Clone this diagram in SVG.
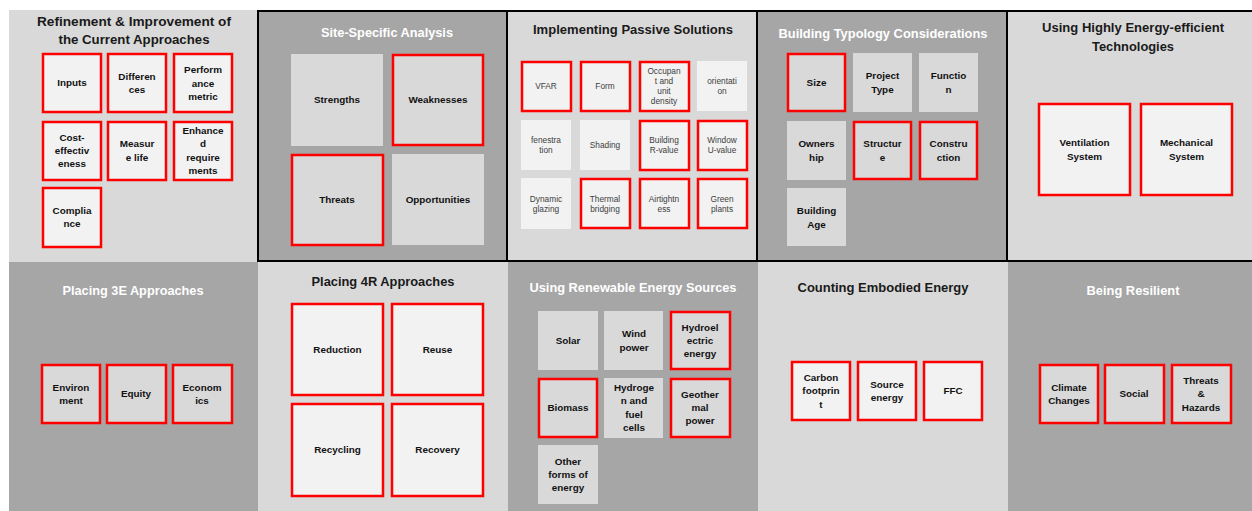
<svg xmlns="http://www.w3.org/2000/svg" width="1252" height="511" viewBox="0 0 1252 511">
<style>
.bgL{fill:#d9d9d9}
.bgD{fill:#a6a6a6}
.brd{fill:none;stroke:#000;stroke-width:2}
.t{font-family:"Liberation Sans",Arial,sans-serif;font-weight:bold;font-size:13.5px;text-anchor:middle}
.tw{fill:#ffffff}
.tb{fill:#1a1a1a}
.bx1{fill:#f2f2f2}
.bx2{fill:#d9d9d9}
.red{stroke:#ff0000;stroke-width:2.5}
.l{font-family:"Liberation Sans",Arial,sans-serif;font-weight:bold;font-size:9.9px;fill:#111111;text-anchor:middle}
.s{font-family:"Liberation Sans",Arial,sans-serif;font-size:8.3px;fill:#404040;text-anchor:middle}
</style>
<rect width="1252" height="511" fill="#ffffff"/>

<g id="panel-refinement">
<rect class="bgL" x="9" y="10" width="249" height="252"/>
<text class="t tb" x="134" y="25.5" textLength="194" lengthAdjust="spacingAndGlyphs">Refinement &amp; Improvement of</text>
<text class="t tb" x="134" y="43.5" textLength="151" lengthAdjust="spacingAndGlyphs">the Current Approaches</text>
<g id="inputs"><rect class="bx1 red" x="43" y="54" width="58" height="58"/><text class="l" x="72" y="86.3">Inputs</text></g>
<g id="differences"><rect class="bx1 red" x="108" y="54" width="58" height="58"/><text class="l"><tspan x="137" y="79.6">Differen</tspan><tspan x="137" y="92.9">ces</tspan></text></g>
<g id="performance"><rect class="bx1 red" x="174" y="54" width="58" height="58"/><text class="l"><tspan x="203" y="73.3">Perform</tspan><tspan x="203" y="86.6">ance</tspan><tspan x="203" y="99.9">metric</tspan></text></g>
<g id="cost"><rect class="bx1 red" x="43" y="122" width="58" height="58"/><text class="l"><tspan x="72" y="140.5">Cost-</tspan><tspan x="72" y="153.8">effectiv</tspan><tspan x="72" y="167.1">eness</tspan></text></g>
<g id="measure"><rect class="bx1 red" x="108" y="122" width="58" height="58"/><text class="l"><tspan x="137" y="147.1">Measur</tspan><tspan x="137" y="160.5">e life</tspan></text></g>
<g id="enhanced"><rect class="bx1 red" x="174" y="122" width="58" height="58"/><text class="l"><tspan x="203" y="133.8">Enhance</tspan><tspan x="203" y="147.1">d</tspan><tspan x="203" y="160.5">require</tspan><tspan x="203" y="173.8">ments</tspan></text></g>
<g id="compliance"><rect class="bx1 red" x="43" y="188" width="58" height="59"/><text class="l"><tspan x="72" y="213.6">Complia</tspan><tspan x="72" y="227">nce</tspan></text></g>
</g>

<g id="panel-site">
<rect class="bgD" x="258" y="10" width="249" height="252"/>
<text class="t tw" x="387" y="36.5" textLength="132" lengthAdjust="spacingAndGlyphs">Site-Specific Analysis</text>
<g id="strengths"><rect class="bx2" x="291" y="54" width="92" height="92"/><text class="l" x="337" y="103.3">Strengths</text></g>
<g id="weaknesses"><rect class="bx2 red" x="393" y="55" width="90" height="90"/><text class="l" x="438" y="103.3">Weaknesses</text></g>
<g id="threats"><rect class="bx2 red" x="292" y="155" width="91" height="90"/><text class="l" x="337" y="203.3">Threats</text></g>
<g id="opportunities"><rect class="bx2" x="392" y="154" width="92" height="91"/><text class="l" x="438" y="203.3">Opportunities</text></g>
</g>

<g id="panel-passive">
<rect class="bgL" x="507" y="10" width="250" height="252"/>
<text class="t tb" x="633" y="33.5" textLength="200" lengthAdjust="spacingAndGlyphs">Implementing Passive Solutions</text>
<g id="vfar"><rect class="bx1 red" x="522" y="62" width="49" height="49"/><text class="s" x="546" y="89">VFAR</text></g>
<g id="form"><rect class="bx1 red" x="581" y="62" width="49" height="49"/><text class="s" x="605" y="89">Form</text></g>
<g id="occupant"><rect class="bx1 red" x="640" y="62" width="49" height="49"/><text class="s"><tspan x="664" y="74">Occupan</tspan><tspan x="664" y="84">t and</tspan><tspan x="664" y="94">unit</tspan><tspan x="664" y="104">density</tspan></text></g>
<g id="orientation"><rect class="bx1" x="697" y="61" width="50" height="50"/><text class="s"><tspan x="722" y="84">orientati</tspan><tspan x="722" y="94">on</tspan></text></g>
<g id="fenestration"><rect class="bx1" x="521" y="120" width="50" height="50"/><text class="s"><tspan x="546" y="143">fenestra</tspan><tspan x="546" y="153">tion</tspan></text></g>
<g id="shading"><rect class="bx1" x="580" y="120" width="50" height="50"/><text class="s" x="605" y="148">Shading</text></g>
<g id="rvalue"><rect class="bx1 red" x="640" y="121" width="49" height="49"/><text class="s"><tspan x="664" y="143">Building</tspan><tspan x="664" y="153">R-value</tspan></text></g>
<g id="uvalue"><rect class="bx1 red" x="698" y="121" width="49" height="49"/><text class="s"><tspan x="722" y="143">Window</tspan><tspan x="722" y="153">U-value</tspan></text></g>
<g id="dynamic"><rect class="bx1" x="521" y="178" width="50" height="51"/><text class="s"><tspan x="546" y="201.5">Dynamic</tspan><tspan x="546" y="211.5">glazing</tspan></text></g>
<g id="thermal"><rect class="bx1 red" x="581" y="179" width="49" height="49"/><text class="s"><tspan x="605" y="201.5">Thermal</tspan><tspan x="605" y="211.5">bridging</tspan></text></g>
<g id="airtightness"><rect class="bx1 red" x="640" y="179" width="49" height="49"/><text class="s"><tspan x="664" y="201.5">Airtightn</tspan><tspan x="664" y="211.5">ess</tspan></text></g>
<g id="green"><rect class="bx1 red" x="698" y="179" width="49" height="49"/><text class="s"><tspan x="722" y="201.5">Green</tspan><tspan x="722" y="211.5">plants</tspan></text></g>
</g>

<g id="panel-typology">
<rect class="bgD" x="757" y="10" width="250" height="252"/>
<text class="t tw" x="883" y="37.5" textLength="209" lengthAdjust="spacingAndGlyphs">Building Typology Considerations</text>
<g id="size"><rect class="bx2 red" x="788" y="54" width="57" height="57"/><text class="l" x="816.5" y="85.8">Size</text></g>
<g id="project"><rect class="bx2" x="853" y="53" width="59" height="59"/><text class="l"><tspan x="882.5" y="79.1">Project</tspan><tspan x="882.5" y="92.5">Type</tspan></text></g>
<g id="function"><rect class="bx2" x="919" y="53" width="59" height="59"/><text class="l"><tspan x="948.5" y="79.1">Functio</tspan><tspan x="948.5" y="92.5">n</tspan></text></g>
<g id="ownership"><rect class="bx2" x="787" y="121" width="59" height="59"/><text class="l"><tspan x="816.5" y="147.1">Owners</tspan><tspan x="816.5" y="160.5">hip</tspan></text></g>
<g id="structure"><rect class="bx2 red" x="854" y="122" width="57" height="57"/><text class="l"><tspan x="882.5" y="147.1">Structur</tspan><tspan x="882.5" y="160.5">e</tspan></text></g>
<g id="construction"><rect class="bx2 red" x="920" y="122" width="57" height="57"/><text class="l"><tspan x="948.5" y="147.1">Constru</tspan><tspan x="948.5" y="160.5">ction</tspan></text></g>
<g id="age"><rect class="bx2" x="787" y="188" width="59" height="58"/><text class="l"><tspan x="816.5" y="214.1">Building</tspan><tspan x="816.5" y="227.5">Age</tspan></text></g>
</g>

<g id="panel-technologies">
<rect class="bgL" x="1007" y="10" width="246" height="252"/>
<text class="t tb" x="1133" y="31.5" textLength="182" lengthAdjust="spacingAndGlyphs">Using Highly Energy-efficient</text>
<text class="t tb" x="1133" y="50.5" textLength="82" lengthAdjust="spacingAndGlyphs">Technologies</text>
<g id="ventilation"><rect class="bx1 red" x="1039" y="104" width="91" height="91"/><text class="l"><tspan x="1084.5" y="146.3">Ventilation</tspan><tspan x="1084.5" y="160.3">System</tspan></text></g>
<g id="mechanical"><rect class="bx1 red" x="1141" y="104" width="91" height="91"/><text class="l"><tspan x="1186.5" y="146.3">Mechanical</tspan><tspan x="1186.5" y="160.3">System</tspan></text></g>
</g>

<g id="panel-3e">
<rect class="bgD" x="9" y="262" width="249" height="249"/>
<text class="t tw" x="133" y="294.5" textLength="141" lengthAdjust="spacingAndGlyphs">Placing 3E Approaches</text>
<g id="environment"><rect class="bx2 red" x="42" y="365" width="58" height="58"/><text class="l"><tspan x="71" y="390.6">Environ</tspan><tspan x="71" y="404">ment</tspan></text></g>
<g id="equity"><rect class="bx2 red" x="107" y="365" width="59" height="58"/><text class="l" x="136" y="397.3">Equity</text></g>
<g id="economics"><rect class="bx2 red" x="173" y="365" width="59" height="58"/><text class="l"><tspan x="202" y="390.6">Econom</tspan><tspan x="202" y="404">ics</tspan></text></g>
</g>

<g id="panel-4r">
<rect class="bgL" x="258" y="262" width="250" height="249"/>
<text class="t tb" x="383" y="285.5" textLength="143" lengthAdjust="spacingAndGlyphs">Placing 4R Approaches</text>
<g id="reduction"><rect class="bx1 red" x="292" y="304" width="91" height="91"/><text class="l" x="337.5" y="352.8">Reduction</text></g>
<g id="reuse"><rect class="bx1 red" x="392" y="304" width="91" height="91"/><text class="l" x="437.5" y="352.8">Reuse</text></g>
<g id="recycling"><rect class="bx1 red" x="292" y="404" width="91" height="92"/><text class="l" x="337.5" y="452.8">Recycling</text></g>
<g id="recovery"><rect class="bx1 red" x="392" y="404" width="91" height="92"/><text class="l" x="437.5" y="452.8">Recovery</text></g>
</g>

<g id="panel-renewable">
<rect class="bgD" x="508" y="262" width="250" height="249"/>
<text class="t tw" x="633" y="291.5" textLength="207" lengthAdjust="spacingAndGlyphs">Using Renewable Energy Sources</text>
<g id="solar"><rect class="bx2" x="538" y="311" width="60" height="59"/><text class="l" x="568" y="343.8">Solar</text></g>
<g id="wind"><rect class="bx2" x="604" y="311" width="59" height="59"/><text class="l"><tspan x="634" y="337.1">Wind</tspan><tspan x="634" y="350.5">power</tspan></text></g>
<g id="hydro"><rect class="bx2 red" x="671" y="312" width="59" height="57"/><text class="l"><tspan x="700" y="330.5">Hydroel</tspan><tspan x="700" y="343.8">ectric</tspan><tspan x="700" y="357.1">energy</tspan></text></g>
<g id="biomass"><rect class="bx2 red" x="539" y="379" width="58" height="58"/><text class="l" x="568" y="410.8">Biomass</text></g>
<g id="hydrogen"><rect class="bx2" x="604" y="378" width="59" height="60"/><text class="l"><tspan x="634" y="390.8">Hydroge</tspan><tspan x="634" y="404.1">n and</tspan><tspan x="634" y="417.5">fuel</tspan><tspan x="634" y="430.8">cells</tspan></text></g>
<g id="geothermal"><rect class="bx2 red" x="671" y="379" width="59" height="58"/><text class="l"><tspan x="700" y="397.5">Geother</tspan><tspan x="700" y="410.8">mal</tspan><tspan x="700" y="424.1">power</tspan></text></g>
<g id="other"><rect class="bx2" x="538" y="445" width="60" height="59"/><text class="l"><tspan x="568" y="464.5">Other</tspan><tspan x="568" y="477.8">forms of</tspan><tspan x="568" y="491.1">energy</tspan></text></g>
</g>

<g id="panel-embodied">
<rect class="bgL" x="758" y="262" width="250" height="249"/>
<text class="t tb" x="883" y="291.5" textLength="171" lengthAdjust="spacingAndGlyphs">Counting Embodied Energy</text>
<g id="carbon"><rect class="bx1 red" x="792" y="362" width="58" height="58"/><text class="l"><tspan x="821" y="381">Carbon</tspan><tspan x="821" y="394.3">footprin</tspan><tspan x="821" y="407.6">t</tspan></text></g>
<g id="source"><rect class="bx1 red" x="858" y="362" width="58" height="58"/><text class="l"><tspan x="887" y="387.6">Source</tspan><tspan x="887" y="401">energy</tspan></text></g>
<g id="ffc"><rect class="bx1 red" x="924" y="362" width="58" height="58"/><text class="l" x="953" y="394.3">FFC</text></g>
</g>

<g id="panel-resilient">
<rect class="bgD" x="1008" y="262" width="244" height="249"/>
<text class="t tw" x="1133" y="294.5" textLength="93" lengthAdjust="spacingAndGlyphs">Being Resilient</text>
<g id="climate"><rect class="bx2 red" x="1040" y="365" width="58" height="58"/><text class="l"><tspan x="1069" y="390.6">Climate</tspan><tspan x="1069" y="404">Changes</tspan></text></g>
<g id="social"><rect class="bx2 red" x="1105" y="365" width="59" height="58"/><text class="l" x="1134" y="397.3">Social</text></g>
<g id="hazards"><rect class="bx2 red" x="1172" y="365" width="59" height="58"/><text class="l"><tspan x="1201" y="384">Threats</tspan><tspan x="1201" y="397.3">&amp;</tspan><tspan x="1201" y="410.6">Hazards</tspan></text></g>
</g>

<g id="borders">
<rect class="brd" x="258" y="11" width="249" height="250"/>
<rect class="brd" x="507" y="11" width="250" height="250"/>
<rect class="brd" x="757" y="11" width="250" height="250"/>
<rect class="brd" x="1007" y="11" width="250" height="250"/>
</g>
<g id="connectors"/>
</svg>
